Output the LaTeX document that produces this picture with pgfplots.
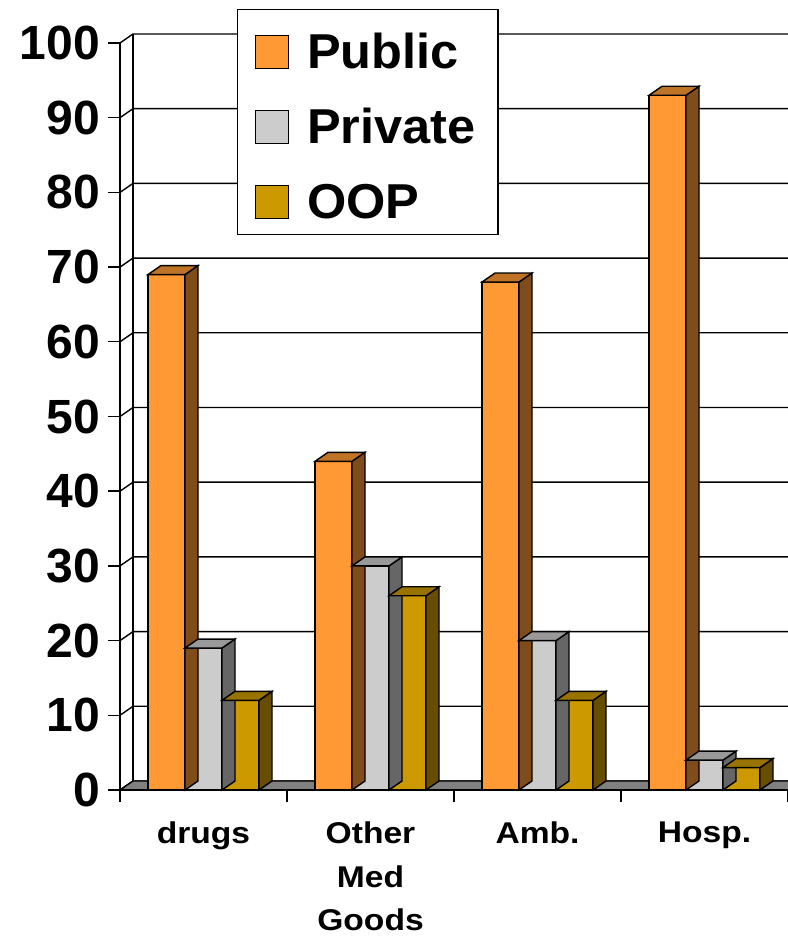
\documentclass[border=0pt]{standalone}
\usepackage{pgfplots}
\usepackage{pgfplotstable}
\usepackage{fontspec}
\setmainfont{Liberation Sans}
\pgfplotsset{compat=1.18}

\definecolor{pubfront}{HTML}{FF9933}
\definecolor{pubtop}{HTML}{BF7326}
\definecolor{pubside}{HTML}{804D1A}
\definecolor{prifront}{HTML}{CCCCCC}
\definecolor{pritop}{HTML}{999999}
\definecolor{priside}{HTML}{666666}
\definecolor{oopfront}{HTML}{CC9900}
\definecolor{ooptop}{HTML}{997300}
\definecolor{oopside}{HTML}{664D00}
\definecolor{floorgray}{HTML}{808080}

% share of spending by payer, per category
\pgfplotstableread{
x   public private oop
0.5 69     19      12
1.5 44     30      26
2.5 68     20      12
3.5 93     4       3
}\healthdata

% depth vector of the 3-D look
\def\depthx{13pt}
\def\depthy{9pt}

% top and side faces of a 37pt wide bar; #2 = offset of the bar centre,
% #3 = top colour, #4 = side colour; \bv holds the bar value (7.47pt per unit)
\newcommand\declarebarcap[4]{%
  \pgfdeclareplotmark{#1}{%
    \pgfmathsetlengthmacro\barh{\bv*7.47pt}%
    \pgfsetlinewidth{1.4pt}%
    \pgfsetstrokecolor{black}%
    \pgfsetmiterjoin
    \pgfsetfillcolor{#4}%
    \pgfpathmoveto{\pgfpoint{#2+18.5pt}{0pt}}%
    \pgfpathlineto{\pgfpoint{#2+31.5pt}{9pt}}%
    \pgfpathlineto{\pgfpoint{#2+31.5pt}{9pt-\barh}}%
    \pgfpathlineto{\pgfpoint{#2+18.5pt}{-\barh}}%
    \pgfpathclose
    \pgfusepath{fill,stroke}%
    \pgfsetfillcolor{#3}%
    \pgfpathmoveto{\pgfpoint{#2-18.5pt}{0pt}}%
    \pgfpathlineto{\pgfpoint{#2-5.5pt}{9pt}}%
    \pgfpathlineto{\pgfpoint{#2+31.5pt}{9pt}}%
    \pgfpathlineto{\pgfpoint{#2+18.5pt}{0pt}}%
    \pgfpathclose
    \pgfusepath{fill,stroke}%
  }}
\declarebarcap{cappub}{-37pt}{pubtop}{pubside}
\declarebarcap{cappri}{0pt}{pritop}{priside}
\declarebarcap{capoop}{37pt}{ooptop}{oopside}

\pgfplotsset{
  barface/.style={ybar, bar width=37pt, bar shift=#1, draw=black, line width=1.4pt,
    legend image code/.code={\draw[##1, line width=1.4pt, draw=black] (0pt,0pt) rectangle (33pt,33pt);}},
}
\tikzset{legendentry/.style={text width=174pt, align=left}}

\begin{document}
\begin{tikzpicture}
\useasboundingbox (0,0) rectangle (787pt,936pt);
\begin{axis}[
  at={(120pt,146pt)}, anchor=origin,
  x=167pt, y=7.47pt,
  xmin=0, xmax=4, ymin=0, ymax=100,
  clip=false, axis on top,
  axis x line*=bottom, axis y line*=left,
  axis line style={line width=1.4pt, black},
  tick align=outside, major tick length=12pt,
  tick style={line width=1.4pt, black},
  xtick={0,1,2,3,4}, xticklabels={},
  extra x ticks={0.5,1.5,2.5,3.5},
  extra x tick labels={drugs,{Other\\Med\\Goods},Amb.,Hosp.},
  extra x tick style={major tick length=0pt},
  xticklabel style={font=\bfseries\fontsize{30}{43.5}\selectfont\addfontfeature{FakeStretch=1.12},
    align=center, anchor=north, inner sep=0pt, yshift=-32pt},
  ytick={0,10,20,30,40,50,60,70,80,90,100},
  /pgf/number format/assume math mode=true,
  yticklabel style={font=\bfseries\fontsize{48}{48}\selectfont, anchor=east,
    inner sep=0pt, xshift=-8pt},
  legend cell align=left,
  legend style={at={(0.1751,1.0455)}, anchor=north west, draw=black,
    line width=1.4pt, fill=white, inner xsep=17pt, inner ysep=0pt,
    row sep=0pt, column sep=18pt,
    font=\bfseries\fontsize{49}{59}\selectfont\addfontfeature{FakeStretch=1.03},
    nodes={inner sep=0pt, text height=59pt, text depth=16pt, anchor=base west}},
]
% back wall grid, joined to the front axis
\pgfplotsinvokeforeach{0,10,20,30,40,50,60,70,80,90,100}{
  \draw[line width=1.4pt] (axis cs:0,#1) -- ([shift={(\depthx,\depthy)}]axis cs:0,#1)
    -- ([shift={(\depthx,\depthy)}]axis cs:4.2,#1);
}
\draw[line width=1.4pt] ([shift={(\depthx,\depthy)}]axis cs:0,0)
  -- ([shift={(\depthx,\depthy)}]axis cs:0,100);
% floor
\filldraw[fill=floorgray, line width=1.4pt] (axis cs:0,0)
  -- ([shift={(\depthx,\depthy)}]axis cs:0,0)
  -- ([shift={(\depthx,\depthy)}]axis cs:4.2,0) -- (axis cs:4.2,0) -- cycle;

\addplot[barface=-37pt, fill=pubfront] table[x=x, y=public] {\healthdata};
\addlegendentry[legendentry]{Public}
\addplot[forget plot, only marks, mark=cappub,
  visualization depends on={\thisrow{public} \as \bv}] table[x=x, y=public] {\healthdata};
\addplot[barface=0pt, fill=prifront] table[x=x, y=private] {\healthdata};
\addlegendentry[legendentry]{Private}
\addplot[forget plot, only marks, mark=cappri,
  visualization depends on={\thisrow{private} \as \bv}] table[x=x, y=private] {\healthdata};
\addplot[barface=37pt, fill=oopfront] table[x=x, y=oop] {\healthdata};
\addlegendentry[legendentry]{OOP}
\addplot[forget plot, only marks, mark=capoop,
  visualization depends on={\thisrow{oop} \as \bv}] table[x=x, y=oop] {\healthdata};
\end{axis}
\end{tikzpicture}
\end{document}
